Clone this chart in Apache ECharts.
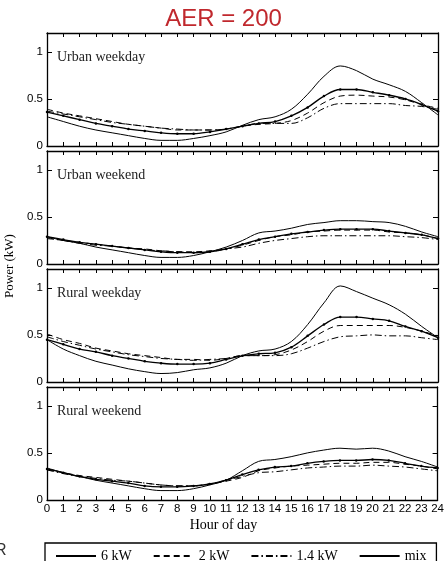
<!DOCTYPE html>
<html>
<head>
<meta charset="utf-8">
<script src="https://cdn.jsdelivr.net/npm/echarts/dist/echarts.min.js"></script>
<style>
  html, body { margin: 0; padding: 0; background: #fff; }
  #main { width: 447px; height: 561px; }
</style>
</head>
<body>
<div id="main"></div>
<script>
// hour of day, 0..24
var hours = [0,1,2,3,4,5,6,7,8,9,10,11,12,13,14,15,16,17,18,19,20,21,22,23,24];
var xTicks = hours;
var yTicks = [0, 0.5, 1];
var panelNames = ['Urban weekday', 'Urban weekend', 'Rural weekday', 'Rural weekend'];
var seriesNames = ['6 kW', '2 kW', '1.4 kW', 'mix'];

// Urban weekday
var uwd6 = [0.31,0.26,0.21,0.17,0.14,0.11,0.08,0.06,0.06,0.08,0.11,0.15,0.22,0.28,0.31,0.39,0.55,0.74,0.85,0.80,0.71,0.65,0.58,0.46,0.33];
var uwd2 = [0.39,0.35,0.32,0.29,0.26,0.23,0.21,0.19,0.17,0.17,0.17,0.18,0.21,0.23,0.24,0.27,0.35,0.46,0.53,0.54,0.53,0.52,0.49,0.44,0.40];
var uwd14 = [0.37,0.34,0.31,0.28,0.25,0.23,0.21,0.19,0.18,0.17,0.17,0.18,0.21,0.24,0.24,0.24,0.30,0.40,0.45,0.45,0.45,0.45,0.43,0.42,0.39];
var uwdMix = [0.36,0.32,0.28,0.24,0.21,0.18,0.16,0.14,0.13,0.13,0.15,0.18,0.21,0.24,0.26,0.32,0.41,0.53,0.60,0.60,0.57,0.54,0.50,0.44,0.37];

// Urban weekend
var uwe6 = [0.29,0.25,0.22,0.18,0.15,0.12,0.09,0.07,0.07,0.09,0.13,0.18,0.25,0.33,0.35,0.38,0.42,0.44,0.46,0.46,0.45,0.44,0.40,0.34,0.29];
var uwe2 = [0.28,0.25,0.23,0.21,0.19,0.17,0.16,0.14,0.13,0.13,0.14,0.16,0.20,0.25,0.29,0.31,0.34,0.35,0.36,0.36,0.36,0.34,0.33,0.31,0.27];
var uwe14 = [0.27,0.25,0.22,0.20,0.19,0.17,0.15,0.14,0.13,0.12,0.13,0.16,0.18,0.22,0.25,0.27,0.29,0.30,0.30,0.30,0.30,0.30,0.29,0.28,0.26];
var uweMix = [0.29,0.26,0.23,0.21,0.19,0.17,0.15,0.13,0.12,0.12,0.13,0.16,0.21,0.26,0.29,0.32,0.34,0.36,0.37,0.37,0.37,0.35,0.33,0.31,0.27];

// Rural weekday
var rwd6 = [0.45,0.35,0.28,0.22,0.18,0.14,0.11,0.09,0.10,0.13,0.15,0.20,0.28,0.33,0.35,0.43,0.61,0.84,1.02,0.96,0.89,0.82,0.72,0.59,0.47];
var rwd2 = [0.51,0.45,0.41,0.36,0.33,0.30,0.28,0.26,0.24,0.24,0.23,0.25,0.28,0.28,0.29,0.34,0.43,0.54,0.60,0.60,0.60,0.60,0.58,0.54,0.49];
var rwd14 = [0.48,0.43,0.39,0.35,0.32,0.29,0.27,0.25,0.24,0.23,0.24,0.25,0.28,0.28,0.28,0.30,0.36,0.43,0.48,0.49,0.50,0.49,0.49,0.47,0.45];
var rwdMix = [0.45,0.40,0.35,0.32,0.28,0.25,0.22,0.20,0.19,0.19,0.20,0.24,0.28,0.30,0.31,0.37,0.49,0.61,0.69,0.69,0.67,0.65,0.59,0.54,0.47];

// Rural weekend
var rwe6 = [0.34,0.29,0.25,0.21,0.18,0.15,0.12,0.10,0.10,0.12,0.16,0.21,0.31,0.41,0.43,0.46,0.50,0.53,0.55,0.54,0.55,0.52,0.46,0.41,0.35];
var rwe2 = [0.32,0.29,0.26,0.24,0.22,0.20,0.18,0.16,0.15,0.15,0.17,0.20,0.24,0.31,0.34,0.36,0.37,0.38,0.39,0.39,0.40,0.40,0.38,0.36,0.33];
var rwe14 = [0.32,0.28,0.25,0.23,0.21,0.20,0.18,0.16,0.15,0.15,0.17,0.21,0.25,0.29,0.30,0.32,0.34,0.35,0.36,0.36,0.37,0.36,0.35,0.33,0.31];
var rweMix = [0.33,0.29,0.25,0.22,0.20,0.18,0.15,0.14,0.14,0.15,0.17,0.21,0.27,0.32,0.35,0.36,0.39,0.41,0.42,0.42,0.43,0.42,0.39,0.36,0.34];

var panels = [
  [uwd6, uwd2, uwd14, uwdMix],
  [uwe6, uwe2, uwe14, uweMix],
  [rwd6, rwd2, rwd14, rwdMix],
  [rwe6, rwe2, rwe14, rweMix]
];

var serif = '"Liberation Serif", "DejaVu Serif", serif';
var sans = '"Liberation Sans", Arial, sans-serif';
var lineTypes = ['solid', [6, 4], [7, 3, 1.5, 3], 'solid'];

var grids = [], xAxes = [], yAxes = [], series = [], titles = [];
titles.push({
  text: 'AER = 200',
  left: 'center',
  top: 2,
  textStyle: { color: '#c0282d', fontFamily: sans, fontSize: 24, fontWeight: 'normal' }
});

function xLabel(v) { return xTicks.indexOf(v) >= 0 ? String(v) : ''; }
function yLabel(v) { return yTicks.indexOf(v) >= 0 ? String(v) : ''; }

for (var p = 0; p < 4; p++) {
  var panelTop = 33 + 118 * p;
  grids.push({ left: 47, right: 9, top: panelTop, height: 113 });
  var last = (p === 3);
  // bottom x axis
  xAxes.push({
    type: 'value', gridIndex: p, position: 'bottom', min: 0, max: 24, interval: 1,
    axisLine: { show: true, onZero: false, lineStyle: { color: '#000', width: 1.3 } },
    axisTick: { show: true, inside: true, length: 4, lineStyle: { color: '#000' } },
    axisLabel: { show: last, color: '#000', fontFamily: sans, fontSize: 11.5, margin: 3, formatter: xLabel },
    splitLine: { show: false }
  });
  // top x axis (ticks only)
  xAxes.push({
    type: 'value', gridIndex: p, position: 'top', min: 0, max: 24, interval: 1,
    axisLine: { show: true, onZero: false, lineStyle: { color: '#000', width: 1.3 } },
    axisTick: { show: true, inside: true, length: 4, lineStyle: { color: '#000' } },
    axisLabel: { show: false },
    splitLine: { show: false }
  });
  yAxes.push({
    type: 'value', gridIndex: p, position: 'left', min: 0, max: 1.2, interval: 0.5,
    axisLine: { show: true, onZero: false, lineStyle: { color: '#000', width: 1.3 } },
    axisTick: { show: true, inside: true, length: 5, lineStyle: { color: '#000' } },
    axisLabel: { color: '#000', fontFamily: sans, fontSize: 11.5, margin: 4, formatter: yLabel },
    splitLine: { show: false }
  });
  yAxes.push({
    type: 'value', gridIndex: p, position: 'right', min: 0, max: 1.2, interval: 0.5,
    axisLine: { show: true, onZero: false, lineStyle: { color: '#000', width: 1.3 } },
    axisTick: { show: true, inside: true, length: 5, lineStyle: { color: '#000' } },
    axisLabel: { show: false },
    splitLine: { show: false }
  });
  titles.push({
    text: panelNames[p],
    left: 57,
    top: panelTop + 17,
    padding: 0,
    textStyle: { color: '#222', fontFamily: serif, fontSize: 14, fontWeight: 'normal' }
  });
  for (var s = 0; s < 4; s++) {
    var vals = panels[p][s];
    var isMix = (s === 3);
    series.push({
      name: seriesNames[s],
      type: 'line',
      xAxisIndex: 2 * p,
      yAxisIndex: 2 * p,
      smooth: 0.35,
      data: hours.map(function (h, i) { return [h, vals[i]]; }),
      symbol: isMix ? 'circle' : 'none',
      symbolSize: 2.5,
      showSymbol: isMix,
      itemStyle: { color: '#000' },
      lineStyle: { color: '#000', width: isMix ? 1.3 : 1, type: lineTypes[s] },
      z: isMix ? 5 : 3
    });
  }
}

var legendData = seriesNames.map(function (n) {
  return { name: n, itemStyle: { opacity: 0 } };
});

var chart = echarts.init(document.getElementById('main'), null, { renderer: 'canvas' });
chart.setOption({
  animation: false,
  backgroundColor: '#fff',
  title: titles,
  grid: grids,
  xAxis: xAxes,
  yAxis: yAxes,
  legend: {
    data: legendData,
    left: 45,
    top: 543,
    padding: [6, 10, 6, 10],
    itemGap: 21,
    itemWidth: 40,
    itemHeight: 10,
    borderColor: '#000',
    borderWidth: 1.3,
    textStyle: { color: '#000', fontFamily: serif, fontSize: 14 }
  },
  graphic: [
    { type: 'text', left: 'center', top: 518,
      style: { text: 'Hour of day', fill: '#000', font: '14px ' + serif } },
    { type: 'text', x: 3, y: 266, rotation: Math.PI / 2,
      style: { text: 'Power (kW)', fill: '#000', font: '13px ' + serif, align: 'center', verticalAlign: 'top' } },
    { type: 'text', x: -5, y: 543,
      style: { text: 'R', fill: '#333', font: '16px ' + sans } }
  ],
  series: series
});
</script>
</body>
</html>
